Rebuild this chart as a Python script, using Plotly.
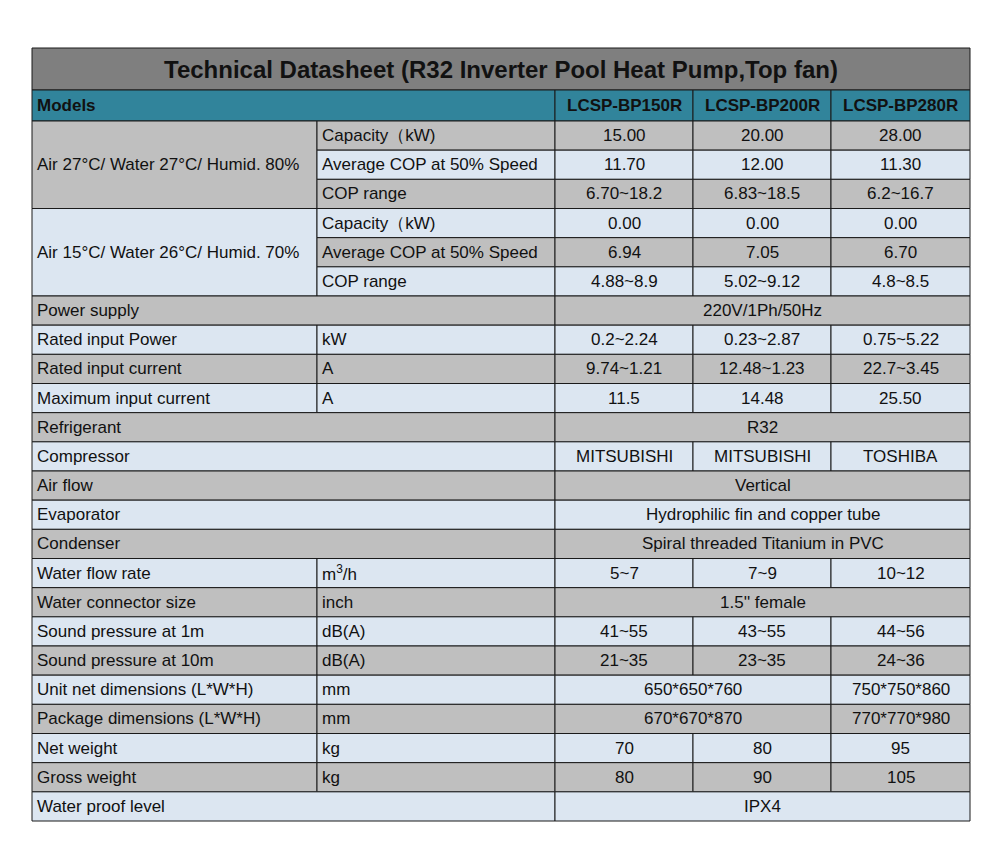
import plotly.graph_objects as go

title = "Technical Datasheet (R32 Inverter Pool Heat Pump,Top fan)"
models = ["LCSP-BP150R", "LCSP-BP200R", "LCSP-BP280R"]

cond_groups = ["Air 27°C/ Water 27°C/ Humid. 80%", "Air 15°C/ Water 26°C/ Humid. 70%"]
cond_items = ["Capacity（kW)", "Average COP at 50% Speed", "COP range"]
cond_values = [
    [["15.00", "20.00", "28.00"], ["11.70", "12.00", "11.30"], ["6.70~18.2", "6.83~18.5", "6.2~16.7"]],
    [["0.00", "0.00", "0.00"], ["6.94", "7.05", "6.70"], ["4.88~8.9", "5.02~9.12", "4.8~8.5"]],
]

spec_labels = ["Power supply", "Rated input Power", "Rated input current", "Maximum input current",
               "Refrigerant", "Compressor", "Air flow", "Evaporator", "Condenser", "Water flow rate",
               "Water connector size", "Sound pressure at 1m", "Sound pressure at 10m",
               "Unit net dimensions (L*W*H)", "Package dimensions (L*W*H)", "Net weight",
               "Gross weight", "Water proof level"]
spec_units = ["", "kW", "A", "A", "", "", "", "", "", "m<sup>3</sup>/h", "inch", "dB(A)", "dB(A)",
              "mm", "mm", "kg", "kg", ""]
spec_values = [
    ["220V/1Ph/50Hz"],
    ["0.2~2.24", "0.23~2.87", "0.75~5.22"],
    ["9.74~1.21", "12.48~1.23", "22.7~3.45"],
    ["11.5", "14.48", "25.50"],
    ["R32"],
    ["MITSUBISHI", "MITSUBISHI", "TOSHIBA"],
    ["Vertical"],
    ["Hydrophilic fin and copper tube"],
    ["Spiral threaded Titanium in PVC"],
    ["5~7", "7~9", "10~12"],
    ["1.5'' female"],
    ["41~55", "43~55", "44~56"],
    ["21~35", "23~35", "24~36"],
    ["650*650*760", "750*750*860"],
    ["670*670*870", "770*770*980"],
    ["70", "80", "95"],
    ["80", "90", "105"],
    ["IPX4"],
]
# how many model columns each value spans
spec_spans = [[3], [1, 1, 1], [1, 1, 1], [1, 1, 1], [3], [1, 1, 1], [3], [3], [3], [1, 1, 1], [3],
              [1, 1, 1], [1, 1, 1], [2, 1], [2, 1], [1, 1, 1], [1, 1, 1], [3]]

# grid geometry (pixels)
col_x = [32, 317, 555, 693, 831, 970]
top, title_h, head_h, bottom = 48, 42, 31, 821
n_rows = len(cond_groups) * len(cond_items) + len(spec_labels)
row_h = (bottom - top - title_h - head_h) / n_rows
body_top = top + title_h + head_h

GRAY, LIGHT, TEAL, DARK = "#bfbfbf", "#dce6f1", "#31849b", "#7f7f7f"
FONT = "Arial, Liberation Sans, sans-serif"

shapes, annots = [], []


def cell(x0, x1, y0, y1, fill, text, align="left", size=17, bold=False):
    shapes.append(dict(type="rect", x0=x0, x1=x1, y0=y0, y1=y1, fillcolor=fill,
                       line=dict(color="#1a1a1a", width=1), layer="below"))
    if text:
        t = f"<b>{text}</b>" if bold else text
        ax = x0 + 3 if align == "left" else (x0 + x1) / 2
        annots.append(dict(x=ax, y=(y0 + y1) / 2, text=t, showarrow=False,
                           xanchor="left" if align == "left" else "center", yanchor="middle",
                           font=dict(family=FONT, size=size, color="#111")))


def row_fill(i):
    return GRAY if i % 2 == 0 else LIGHT


cell(col_x[0], col_x[-1], top, top + title_h, DARK, title, align="center", size=24, bold=True)
y = top + title_h
cell(col_x[0], col_x[2], y, y + head_h, TEAL, "Models", bold=True, size=17)
for j, m in enumerate(models):
    cell(col_x[2 + j], col_x[3 + j], y, y + head_h, TEAL, m, align="center", bold=True, size=17)

r = 0
for g, grp in enumerate(cond_groups):
    gy0 = body_top + r * row_h
    cell(col_x[0], col_x[1], gy0, gy0 + len(cond_items) * row_h, row_fill(r), grp)
    for k, item in enumerate(cond_items):
        y0 = body_top + r * row_h
        cell(col_x[1], col_x[2], y0, y0 + row_h, row_fill(r), item)
        for j, v in enumerate(cond_values[g][k]):
            cell(col_x[2 + j], col_x[3 + j], y0, y0 + row_h, row_fill(r), v, align="center")
        r += 1

for i, lab in enumerate(spec_labels):
    y0 = body_top + r * row_h
    f = row_fill(r)
    if spec_units[i]:
        cell(col_x[0], col_x[1], y0, y0 + row_h, f, lab)
        cell(col_x[1], col_x[2], y0, y0 + row_h, f, spec_units[i])
    else:
        cell(col_x[0], col_x[2], y0, y0 + row_h, f, lab)
    c = 2
    for v, s in zip(spec_values[i], spec_spans[i]):
        cell(col_x[c], col_x[c + s], y0, y0 + row_h, f, v, align="center")
        c += s
    r += 1

# page body has an 8px margin, so shift the axis window by the same amount
fig = go.Figure()
fig.update_layout(width=1000, height=848, margin=dict(l=0, r=0, t=0, b=0),
                  plot_bgcolor="white", paper_bgcolor="white",
                  xaxis=dict(range=[8, 1008], visible=False),
                  yaxis=dict(range=[856, 8], visible=False),
                  shapes=shapes, annotations=annots)
fig.write_html("out.html")
